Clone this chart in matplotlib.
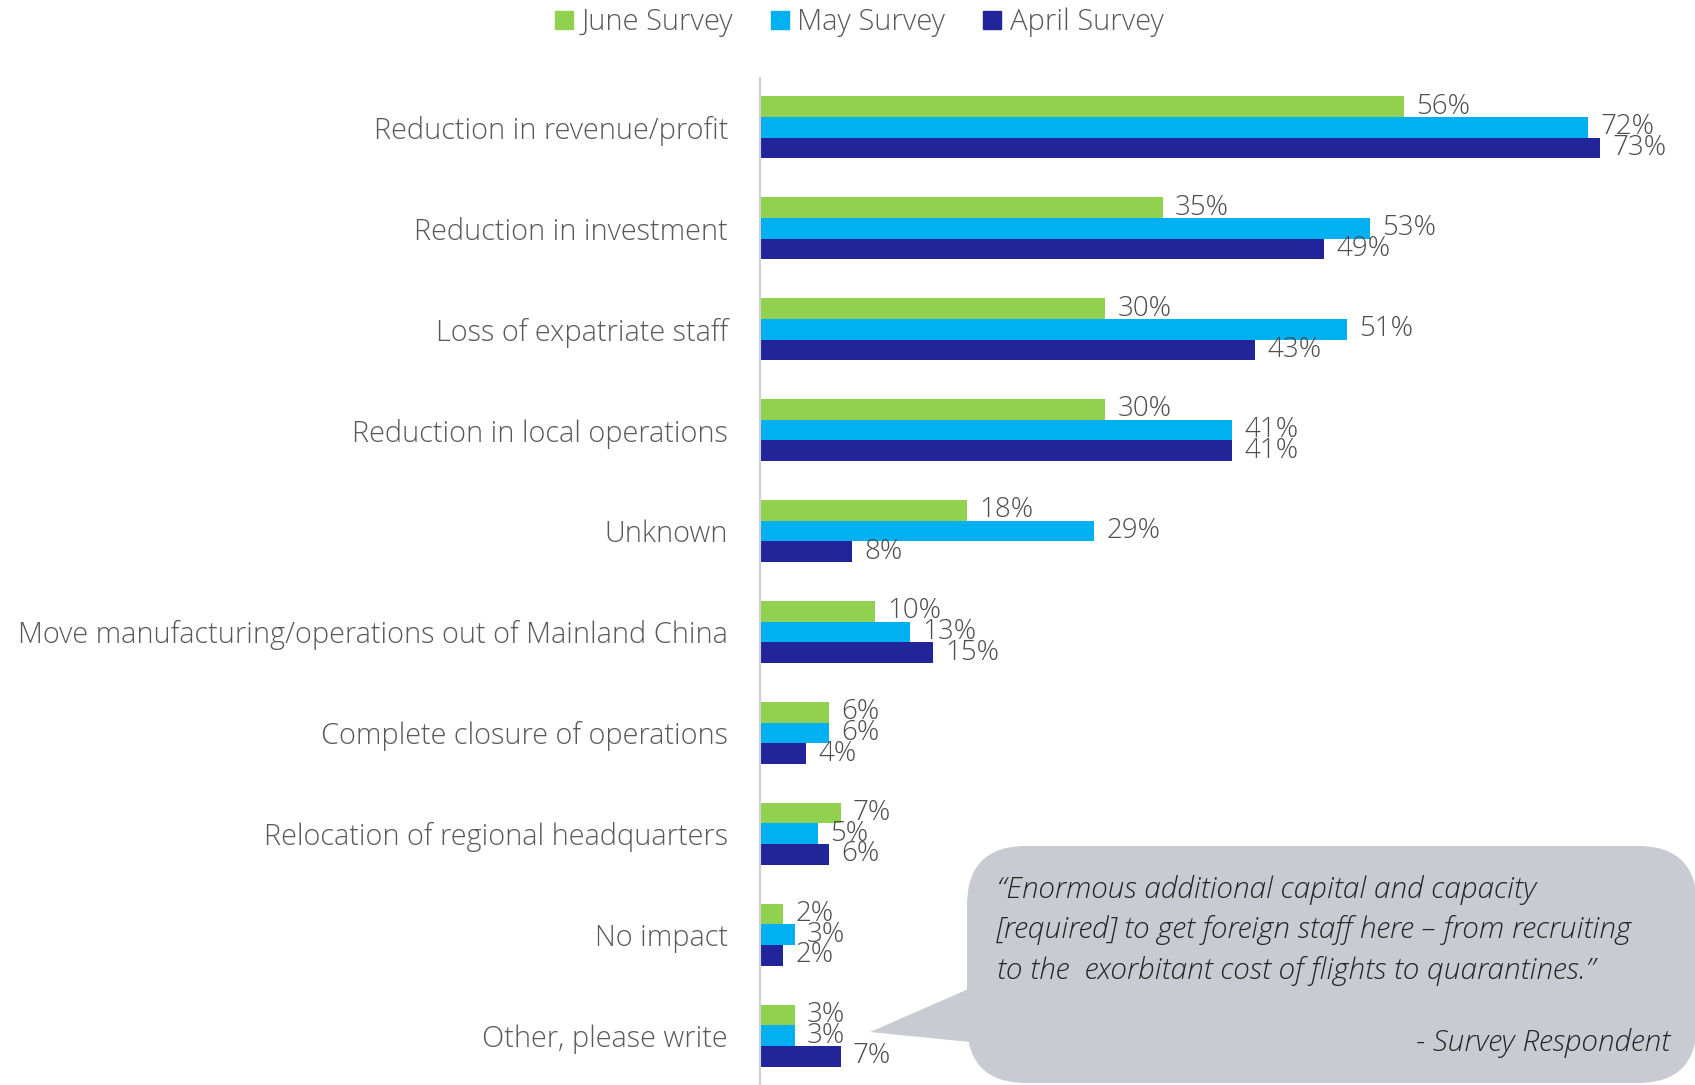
import numpy as np
import matplotlib.pyplot as plt
from matplotlib.patches import FancyBboxPatch, Polygon, Patch

# Datos del gráfico
categories = [
    "Reduction in revenue/profit",
    "Reduction in investment",
    "Loss of expatriate staff",
    "Reduction in local operations",
    "Unknown",
    "Move manufacturing/operations out of Mainland China",
    "Complete closure of operations",
    "Relocation of regional headquarters",
    "No impact",
    "Other, please write",
]
june = [56, 35, 30, 30, 18, 10, 6, 7, 2, 3]
may = [72, 53, 51, 41, 29, 13, 6, 5, 3, 3]
april = [73, 49, 43, 41, 8, 15, 4, 6, 2, 7]
series_names = ["June Survey", "May Survey", "April Survey"]
colors = ["#92D050", "#00B0F0", "#22259A"]

quote = ("\u201cEnormous additional capital and capacity\n"
         "[required] to get foreign staff here \u2013 from recruiting\n"
         "to the  exorbitant cost of flights to quarantines.\u201d")
quote_author = "- Survey Respondent"

FONT = "Open Sans"
TXT = "#595959"

W, H = 1695, 1085
fig = plt.figure(figsize=(W / 100, H / 100), dpi=100)
ax = fig.add_axes([760 / W, 0, 920 / W, 1 - 78 / H])

y = np.arange(len(categories))
bh = 0.205
for i, (vals, name, col) in enumerate(zip([june, may, april], series_names, colors)):
    pos = y + (i - 1) * bh
    ax.barh(pos, vals, height=bh, color=col, label=name)
    for p, v in zip(pos, vals):
        ax.annotate(f"{v}%", (v, p), xytext=(9, 0), textcoords="offset points",
                    va="center", ha="left", fontsize=20, color="#4D4D4D",
                    family=FONT, fontweight="light")

ax.set_xlim(0, 80)
ax.set_ylim(9.49, -0.49)
ax.set_yticks(y)
ax.set_yticklabels(categories, fontsize=20.8, color=TXT, family=FONT, fontweight="light")
ax.tick_params(axis="y", length=0, pad=23)
ax.set_xticks([])
for s in ["top", "right", "bottom"]:
    ax.spines[s].set_visible(False)
ax.spines["left"].set_color("#D0D0D0")
ax.spines["left"].set_linewidth(1.5)

handles = [Patch(color=c) for c in colors]
fig.legend(handles, series_names, loc="upper center", bbox_to_anchor=(795 * 1.081 / W, 1.017),
           ncol=3, frameon=False, handlelength=0.6, handleheight=0.6, handletextpad=0.3,
           columnspacing=1.3, prop={"family": FONT, "weight": "light", "size": 21},
           labelcolor=TXT)

# Globo de texto con la cita
bub = "#C8CBD2"
fig.patches.append(FancyBboxPatch((967 / W, 2 / H), (W - 967 + 2) / W, (H - 846 - 2) / H,
                                  boxstyle="round,pad=0,rounding_size=0.035",
                                  transform=fig.transFigure, facecolor=bub,
                                  edgecolor="none", mutation_aspect=W / H))
fig.patches.append(Polygon([(980 / W, (H - 984) / H), (870 / W, (H - 1032) / H),
                            (980 / W, (H - 1043) / H)], closed=True,
                           transform=fig.transFigure, facecolor=bub, edgecolor="none"))
fig.text(997 / W, 1 - 875 / H, quote, ha="left", va="top", fontsize=21.5,
         style="italic", color="#262626", family=FONT, fontweight="light", linespacing=1.45)
fig.text(1670 / W, 1 - 1043 / H, quote_author, ha="right", va="center", fontsize=21.5,
         style="italic", color="#262626", family=FONT, fontweight="light")

fig.savefig("out.png", dpi=100)
